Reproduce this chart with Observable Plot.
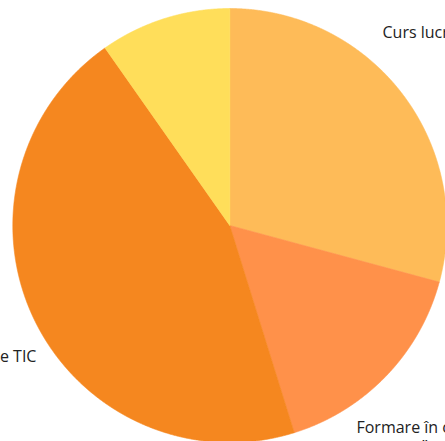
<!DOCTYPE html>
<html>
<head>
<meta charset="utf-8">
<script src="https://cdn.jsdelivr.net/npm/d3@7"></script>
<script src="https://cdn.jsdelivr.net/npm/@observablehq/plot@0.6"></script>
<style>
  html, body { margin: 0; padding: 0; background: #fff; overflow: hidden; }
  svg { overflow: hidden; }
</style>
</head>
<body>
<div id="chart"></div>
<script>
// ---- data ----
const categories = ["Curs lucru cu calculatorul", "Formare în cadrul proiectului\n„concurs”", "Competențe TIC", "Alte cursuri"];
const values = [29.2, 16.0, 45.05, 9.75];
const colors = ["#FEBB58", "#FF914A", "#F5871F", "#FFDE5A"];

// ---- layout ----
const W = 445, H = 441;
const cx = 229.3, cy = 225, R = 217;
const FS = 16;
// label placement: radial factor along the slice mid-angle, pixel offset, anchor
const labelLayout = [
  {k: 1.5225, dx: -109.6, anchor: "start"},
  {k: 1.2864, dx: -74.4, anchor: "start"},
  {k: 1.2852, dx: 56.9, anchor: "end"},
  null
];

const arcs = d3.pie().sort(null).value(d => d)(values);

function slicePoints(a) {
  const pts = [{x: 0, y: 0}];
  const step = Math.PI / 900;
  const n = Math.max(2, Math.ceil((a.endAngle - a.startAngle) / step));
  for (let j = 0; j <= n; j++) {
    const t = a.startAngle + (a.endAngle - a.startAngle) * j / n;
    pts.push({x: Math.sin(t), y: Math.cos(t)});
  }
  pts.push({x: 0, y: 0});
  return pts;
}

const labels = [];
arcs.forEach((a, i) => {
  const L = labelLayout[i];
  if (!L) return;
  const m = (a.startAngle + a.endAngle) / 2;
  labels.push({x: Math.sin(m) * L.k, y: Math.cos(m) * L.k, text: categories[i], dx: L.dx, anchor: L.anchor});
});

const marks = arcs.map((a, i) =>
  Plot.line(slicePoints(a), {x: "x", y: "y", fill: colors[i], stroke: colors[i], strokeWidth: 0.6, curve: "linear"})
);
labels.forEach(d => {
  marks.push(Plot.text([d], {x: "x", y: "y", text: "text", dx: d.dx, textAnchor: d.anchor, lineAnchor: "top",
    fontSize: FS, fill: "#222", lineHeight: 1.2}));
});

const chart = Plot.plot({
  width: W, height: H,
  margin: 0,
  style: {fontFamily: "'Open Sans', sans-serif", fontSize: FS + "px", background: "#fff"},
  x: {domain: [-cx / R, (W - cx) / R], range: [0, W], axis: null},
  y: {domain: [-(H - cy) / R, cy / R], range: [H, 0], axis: null},
  marks
});
document.getElementById("chart").appendChild(chart);
</script>
</body>
</html>
